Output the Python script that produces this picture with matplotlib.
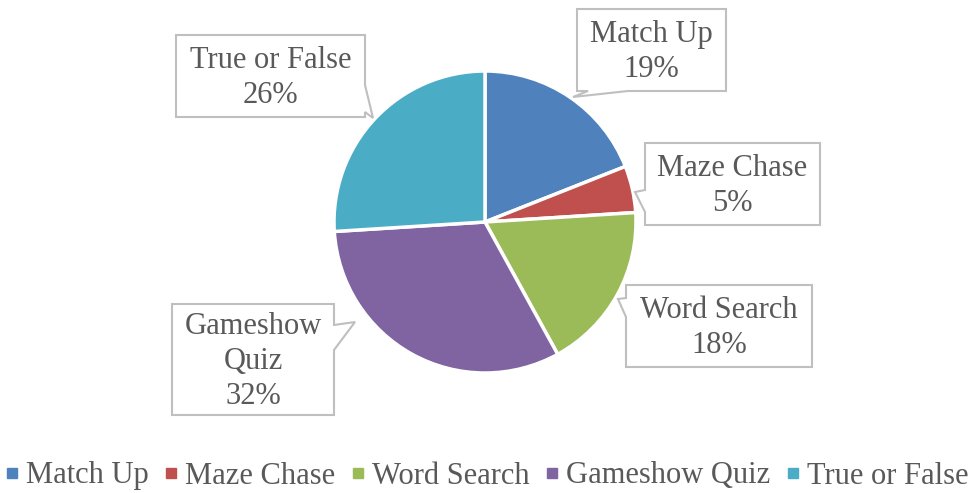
import matplotlib
matplotlib.use("Agg")
import matplotlib.pyplot as plt
from matplotlib.patches import Polygon
from matplotlib.lines import Line2D

categories = ["Match Up", "Maze Chase", "Word Search", "Gameshow Quiz", "True or False"]
values = [19, 5, 18, 32, 26]
label_texts = ["Match Up\n19%", "Maze Chase\n5%", "Word Search\n18%", "Gameshow\nQuiz\n32%", "True or False\n26%"]
colors = ["#4F81BD", "#C0504D", "#9BBB59", "#8064A2", "#4BACC6"]

W, H = 976, 493
plt.rcParams['font.family'] = ['Liberation Serif', 'DejaVu Serif']
TXT = "#595959"
EDGE = "#BFBFBF"

fig = plt.figure(figsize=(W / 100, H / 100), dpi=100)
ax = fig.add_axes([0, 0, 1, 1])

cx, cy, R = 485, 222, 151
ax.pie(values, colors=colors, startangle=90, counterclock=False,
       center=(cx, H - cy), radius=R,
       wedgeprops=dict(edgecolor="white", linewidth=2.5))
ax.set_xlim(0, W)
ax.set_ylim(0, H)
ax.set_aspect('equal')
ax.axis('off')

# callout layout in pixel coords (x0, y0, x1, y1), wedge base pts, tip
callouts = [
    dict(box=(577, 9, 726, 91), edge="bottom", base=(588, 628), tip=(573, 97)),
    dict(box=(645, 143, 820, 225), edge="left", base=(190, 212), tip=(635, 192)),
    dict(box=(626, 285, 812, 367), edge="left", base=(298, 317), tip=(618, 299)),
    dict(box=(172, 304, 334, 415), edge="right", base=(325, 350), tip=(355, 322)),
    dict(box=(176, 35, 365, 117), edge="right", base=(85, 112), tip=(373, 118)),
]

def poly_pts(c):
    x0, y0, x1, y1 = c["box"]
    b0, b1 = c["base"]
    tx, ty = c["tip"]
    if c["edge"] == "bottom":
        pts = [(x0, y0), (x1, y0), (x1, y1), (b1, y1), (tx, ty), (b0, y1), (x0, y1)]
    elif c["edge"] == "left":
        pts = [(x0, y0), (x1, y0), (x1, y1), (x0, y1), (x0, b1), (tx, ty), (x0, b0)]
    else:  # right
        pts = [(x0, y0), (x1, y0), (x1, b0), (tx, ty), (x1, b1), (x1, y1), (x0, y1)]
    return [(x, H - y) for x, y in pts]

for c, txt in zip(callouts, label_texts):
    ax.add_patch(Polygon(poly_pts(c), closed=True, facecolor="white",
                         edgecolor=EDGE, linewidth=1.5, zorder=3))
    x0, y0, x1, y1 = c["box"]
    ax.text((x0 + x1) / 2, H - (y0 + y1) / 2 - 2, txt, ha="center", va="center",
            fontsize=22, color=TXT, linespacing=1.27, zorder=4)

handles = [Line2D([], [], marker="s", linestyle="none", markersize=6.5,
                  markerfacecolor=col, markeredgecolor=col) for col in colors]
fig.legend(handles, categories, loc="center", bbox_to_anchor=(0.5, 1 - 476 / H),
           ncol=5, frameon=False, fontsize=22, labelcolor=TXT,
           handlelength=0.3, handletextpad=0.3, columnspacing=0.6,
           borderaxespad=0, borderpad=0)

fig.savefig("out.png", dpi=100)
